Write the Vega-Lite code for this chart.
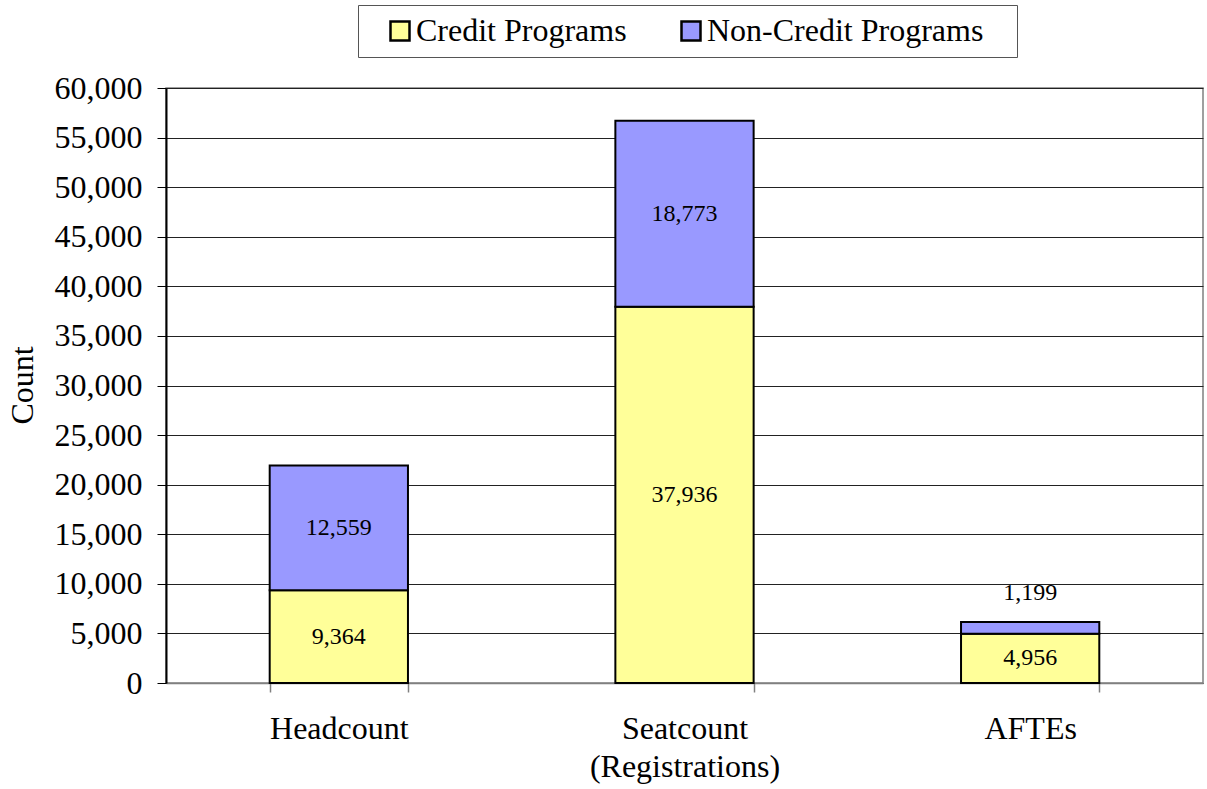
{
  "$schema": "https://vega.github.io/schema/vega-lite/v6.json",
  "width": 1037,
  "height": 595,
  "autosize": {"type": "none"},
  "padding": {"left": 166, "top": 88, "right": 4, "bottom": 106},
  "background": "white",
  "config": {
    "font": "Liberation Serif",
    "view": {"stroke": "#808080", "strokeWidth": 1.5},
    "legend": {"strokeColor": "#555", "fillColor": "white"}
  },
  "data": {
    "values": [
      {"category": "Headcount", "program": "Credit Programs", "value": 9364},
      {"category": "Headcount", "program": "Non-Credit Programs", "value": 12559},
      {"category": "Seatcount (Registrations)", "program": "Credit Programs", "value": 37936},
      {"category": "Seatcount (Registrations)", "program": "Non-Credit Programs", "value": 18773},
      {"category": "AFTEs", "program": "Credit Programs", "value": 4956},
      {"category": "AFTEs", "program": "Non-Credit Programs", "value": 1199}
    ]
  },
  "layer": [
    {
      "mark": {"type": "bar", "stroke": "black", "strokeWidth": 2},
      "encoding": {
        "x": {
          "field": "category", "type": "nominal", "sort": null,
          "scale": {"paddingInner": 0.6, "paddingOuter": 0.3},
          "axis": {
            "title": null, "labelAngle": 0, "labelFont": "Liberation Serif", "labelFontSize": 32,
            "labelColor": "black", "tickBand": "extent", "tickSize": 9, "tickColor": "#808080",
            "tickWidth": 1.5, "domainColor": "#808080", "domainWidth": 1.5, "labelPadding": 21,
            "labelLineHeight": 38, "labelLimit": 500,
            "labelExpr": "datum.label == 'Seatcount (Registrations)' ? ['Seatcount', '(Registrations)'] : datum.label"
          }
        },
        "y": {
          "field": "value", "type": "quantitative", "stack": "zero",
          "scale": {"domain": [0, 60000]},
          "axis": {
            "title": "Count", "titleFont": "Liberation Serif", "titleFontSize": 32, "titleFontWeight": "normal",
            "titleColor": "black", "titleAngle": 270, "titleX": -144, "titleY": 297,
            "titleAlign": "center", "titleBaseline": "middle",
            "values": [0, 5000, 10000, 15000, 20000, 25000, 30000, 35000, 40000, 45000, 50000, 55000, 60000],
            "format": ",d", "labelFont": "Liberation Serif", "labelFontSize": 32, "labelColor": "black",
            "tickSize": 9, "tickColor": "black", "labelPadding": 15,
            "domainColor": "black", "domainWidth": 2,
            "grid": true, "gridColor": "#222", "gridWidth": 1
          }
        },
        "color": {
          "field": "program", "type": "nominal",
          "scale": {"domain": ["Credit Programs", "Non-Credit Programs"], "range": ["#FFFF99", "#9999FF"]},
          "legend": {
            "title": null, "orient": "none", "direction": "horizontal",
            "legendX": 192, "legendY": -83,
            "symbolType": "square", "symbolSize": 361, "symbolStrokeColor": "black", "symbolStrokeWidth": 2.5,
            "labelFont": "Liberation Serif", "labelFontSize": 32, "labelColor": "black",
            "labelOffset": 0, "columnPadding": 32, "labelLimit": 400,
            "padding": 10, "symbolOffset": 16,
            "labelExpr": "datum.label == 'Non-Credit Programs' ? datum.label + '\u2800' : datum.label"
          }
        },
        "order": {"field": "program", "sort": "ascending"}
      }
    },
    {
      "transform": [
        {"stack": "value", "groupby": ["category"], "sort": [{"field": "program", "order": "ascending"}], "as": ["v0", "v1"]},
        {"calculate": "(datum.v0 + datum.v1) / 2", "as": "mid"},
        {"filter": "datum.value >= 3000"}
      ],
      "mark": {"type": "text", "font": "Liberation Serif", "fontSize": 24, "color": "black", "baseline": "middle"},
      "encoding": {
        "x": {"field": "category", "type": "nominal", "sort": null},
        "y": {"field": "mid", "type": "quantitative"},
        "text": {"field": "value", "type": "quantitative", "format": ","}
      }
    },
    {
      "transform": [
        {"stack": "value", "groupby": ["category"], "sort": [{"field": "program", "order": "ascending"}], "as": ["v0", "v1"]},
        {"filter": "datum.value < 3000"}
      ],
      "mark": {"type": "text", "font": "Liberation Serif", "fontSize": 24, "color": "black", "baseline": "middle", "dy": -29},
      "encoding": {
        "x": {"field": "category", "type": "nominal", "sort": null},
        "y": {"field": "v1", "type": "quantitative"},
        "text": {"field": "value", "type": "quantitative", "format": ","}
      }
    }
  ]
}
